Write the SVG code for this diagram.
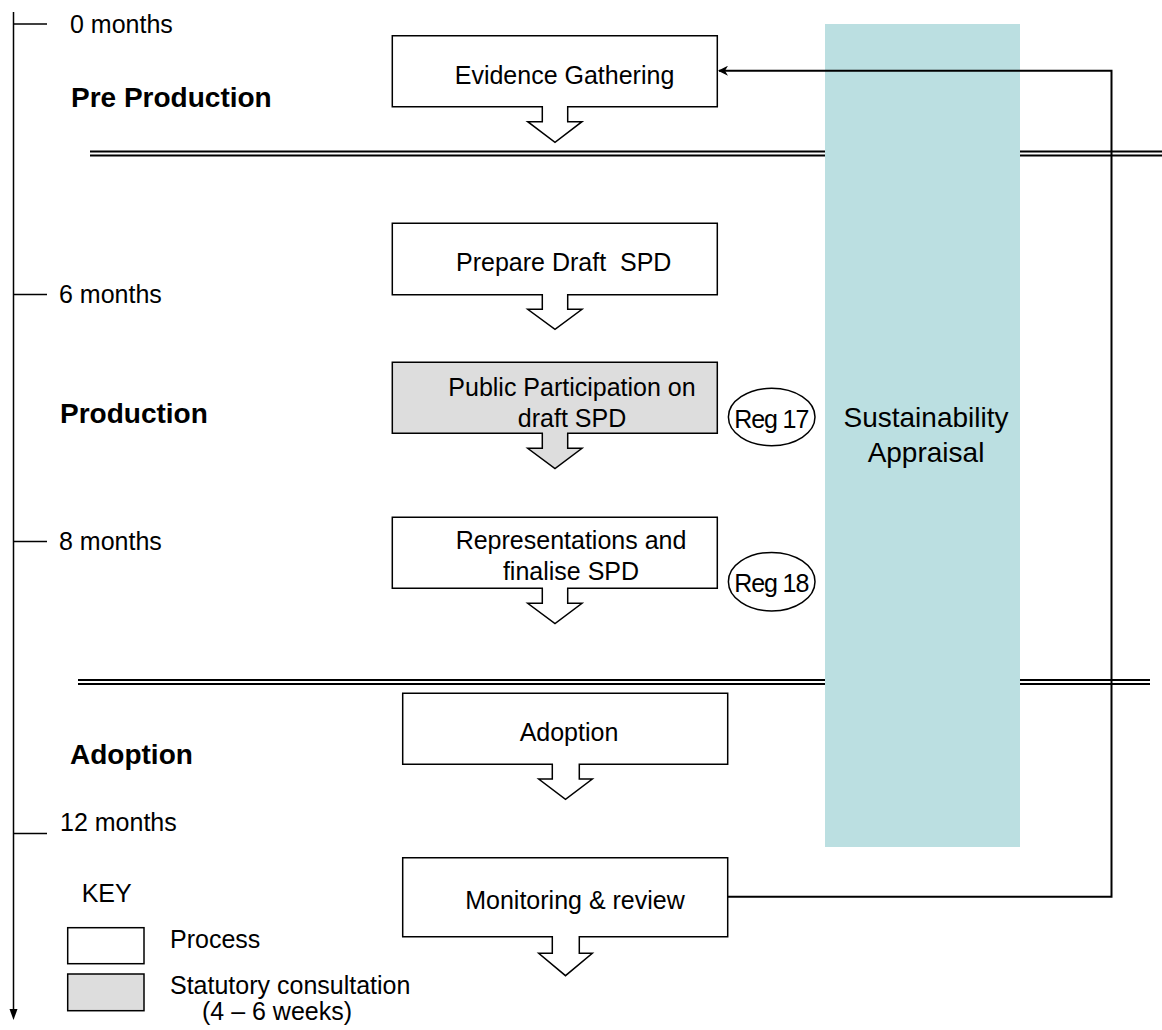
<svg xmlns="http://www.w3.org/2000/svg" width="1162" height="1030" viewBox="0 0 1162 1030">
<style>
text{font-family:"Liberation Sans",Arial,sans-serif;fill:#000;white-space:pre}
.t{font-size:25px}
.c{font-size:25px;text-anchor:middle}
.h{font-size:28px;font-weight:bold}
.sa{font-size:28px;text-anchor:middle}
.box{fill:#fff;stroke:#000;stroke-width:1.5}
.grey{fill:#ddd;stroke:#000;stroke-width:1.5}
.ln{stroke:#000;stroke-width:1.5;fill:none}
.dbl{stroke:#000;stroke-width:2;fill:none}
.conn{stroke:#000;stroke-width:2;fill:none}
</style>
<defs>
<marker id="ah" viewBox="0 0 10 10" refX="9" refY="5" markerWidth="5" markerHeight="5" orient="auto" markerUnits="strokeWidth">
<path d="M0,0 L10,5 L0,10 L3,5 Z" fill="#000"/>
</marker>
</defs>
<rect width="1162" height="1030" fill="#fff"/>

<g id="phase-dividers">
<line class="dbl" x1="90" y1="151.5" x2="1162" y2="151.5"/>
<line class="dbl" x1="90" y1="155.5" x2="1162" y2="155.5"/>
<line class="dbl" x1="78" y1="680" x2="1150" y2="680"/>
<line class="dbl" x1="78" y1="684" x2="1150" y2="684"/>
</g>

<g id="sustainability-appraisal">
<rect x="825" y="24" width="195" height="823" fill="#bbdfe1"/>
<text class="sa" x="926" y="427">Sustainability</text>
<text class="sa" x="926" y="462">Appraisal</text>
</g>

<g id="timeline">
<line class="ln" x1="13.5" y1="12" x2="13.5" y2="1011"/>
<polygon points="9.5,1009 17.5,1009 13.5,1020" fill="#000"/>
<line class="ln" x1="13" y1="24" x2="47" y2="24"/>
<line class="ln" x1="13" y1="294.5" x2="47" y2="294.5"/>
<line class="ln" x1="13" y1="541.5" x2="47" y2="541.5"/>
<line class="ln" x1="13" y1="833.5" x2="47" y2="833.5"/>
<text class="t" x="70" y="33">0 months</text>
<text class="t" x="59" y="303">6 months</text>
<text class="t" x="59" y="550">8 months</text>
<text class="t" x="60" y="831">12 months</text>
</g>

<g id="phase-labels">
<text class="h" x="71" y="107">Pre Production</text>
<text class="h" x="60" y="423">Production</text>
<text class="h" x="70" y="764">Adoption</text>
</g>

<g id="evidence-gathering">
<path class="box" d="M392.3,35.7 H717.3 V106.7 H567.7 V121.7 H582 L555,142.3 L527.7,121.7 H542.3 V106.7 H392.3 Z"/>
<text class="c" x="564.5" y="84">Evidence Gathering</text>
</g>

<g id="prepare-draft-spd">
<path class="box" d="M392.3,223.3 H717.3 V294.7 H567.7 V309.3 H582 L555,329.3 L527.7,309.3 H542.3 V294.7 H392.3 Z"/>
<text class="c" x="563.7" y="271">Prepare Draft  SPD</text>
</g>

<g id="public-participation">
<path class="grey" d="M392.3,362.3 H717.3 V433.3 H567.7 V448.3 H582 L555,468.6 L527.7,448.3 H542.3 V433.3 H392.3 Z"/>
<text class="c" x="572" y="396">Public Participation on</text>
<text class="c" x="572" y="427">draft SPD</text>
</g>

<g id="reg17">
<ellipse class="box" cx="771.7" cy="417" rx="43.3" ry="28.7"/>
<text class="t" x="734.3" y="428.3" textLength="75" lengthAdjust="spacing">Reg 17</text>
</g>

<g id="representations">
<path class="box" d="M392.3,517.3 H717.3 V588.3 H567.7 V603.3 H582 L555,623.6 L527.7,603.3 H542.3 V588.3 H392.3 Z"/>
<text class="c" x="571" y="549">Representations and</text>
<text class="c" x="571" y="580">finalise SPD</text>
</g>

<g id="reg18">
<ellipse class="box" cx="771.7" cy="581.7" rx="43.3" ry="29.3"/>
<text class="t" x="734.3" y="591.7" textLength="75" lengthAdjust="spacing">Reg 18</text>
</g>

<g id="adoption">
<path class="box" d="M402.7,693.3 H727.7 V764.3 H579.3 V779 H592.3 L565.5,799.3 L538.7,779 H552.3 V764.3 H402.7 Z"/>
<text class="c" x="569" y="741">Adoption</text>
</g>

<g id="monitoring-review">
<path class="box" d="M402.7,857.7 H727.7 V936.7 H579.3 V953.3 H592.3 L565.5,975.7 L538.7,953.3 H552.3 V936.7 H402.7 Z"/>
<text class="c" x="575" y="909">Monitoring &amp; review</text>
</g>

<g id="connectors">
<polyline class="conn" points="727.7,896.7 1111.5,896.7 1111.5,70.7 719,70.7" marker-end="url(#ah)"/>
</g>

<g id="key">
<text class="t" x="81.7" y="902">KEY</text>
<rect class="box" x="67.7" y="927.7" width="76.3" height="36"/>
<text class="t" x="170" y="948">Process</text>
<rect class="grey" x="67.7" y="974" width="76.3" height="36.7"/>
<text class="t" x="170" y="994">Statutory consultation</text>
<text class="t" x="202" y="1020">(4 – 6 weeks)</text>
</g>
</svg>
